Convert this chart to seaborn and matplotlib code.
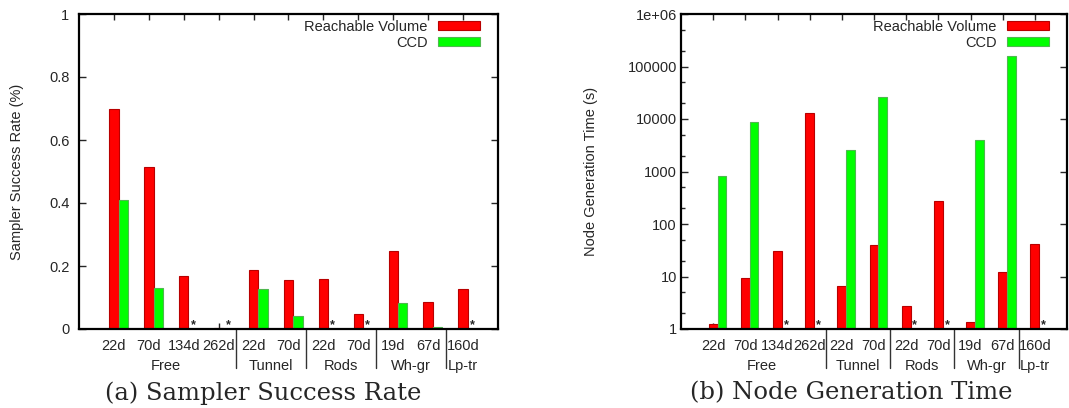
import numpy as np
import pandas as pd
import matplotlib
import matplotlib.pyplot as plt
import seaborn as sns
from matplotlib.patches import Patch
from matplotlib.ticker import LogLocator, NullFormatter, FixedLocator

matplotlib.use("Agg")

groups = ["Free", "Free", "Free", "Free", "Tunnel", "Tunnel", "Rods", "Rods",
          "Wh-gr", "Wh-gr", "Lp-tr"]
dims = ["22d", "70d", "134d", "262d", "22d", "70d", "22d", "70d", "19d", "67d", "160d"]
methods = ["Reachable Volume", "CCD"]

# sampler success rate (%), nan = no value (marked with *)
rate_rv = [0.70, 0.513, 0.169, 0.002, 0.187, 0.154, 0.160, 0.048, 0.247, 0.087, 0.127]
rate_ccd = [0.41, 0.13, np.nan, np.nan, 0.127, 0.042, np.nan, np.nan, 0.082, 0.007, np.nan]

# node generation time (s)
time_rv = [1.25, 9.4, 31, 13000, 6.6, 40, 2.7, 275, 1.35, 12, 42]
time_ccd = [820, 8700, np.nan, np.nan, 2600, 26000, np.nan, np.nan, 4000, 158000, np.nan]

group_names = ["Free", "Tunnel", "Rods", "Wh-gr", "Lp-tr"]
colors = {"Reachable Volume": "#ff0000", "CCD": "#00ff00"}
edges = {"Reachable Volume": "#b80000", "CCD": "#4fb84f"}

sns.set_style("ticks")
plt.rcParams["font.family"] = ["Liberation Sans", "DejaVu Sans"]
plt.rcParams["font.size"] = 10.5


def make_df(rv, ccd):
    keys = [f"{g} {d}" for g, d in zip(groups, dims)]
    return pd.DataFrame({
        "key": keys * 2,
        "method": ["Reachable Volume"] * len(keys) + ["CCD"] * len(keys),
        "value": list(rv) + list(ccd),
    })


def draw(ax, rv, ccd, log=False):
    df = make_df(rv, ccd)
    if log:
        ax.set_yscale("log")
    sns.barplot(data=df, x="key", y="value", hue="method", hue_order=methods,
                palette=colors, saturation=1, width=0.54, errorbar=None,
                legend=False, ax=ax, order=list(df["key"][:len(dims)]))
    for bar in ax.patches:
        c = bar.get_facecolor()
        for m in methods:
            if np.allclose(c[:3], matplotlib.colors.to_rgb(colors[m])):
                bar.set_edgecolor(edges[m])
        bar.set_linewidth(0.8)

    off = 0.135
    n = len(dims)
    pos = np.arange(n) - off
    ax.set_xlim(-1 - off, n - off)
    ax.set_xticks(pos)
    ax.set_xticklabels(dims)
    ax.set_xlabel("")
    ax.tick_params(axis="x", which="major", direction="in", length=4, width=1,
                   top=True, pad=7, labelsize=10.5)
    ax.tick_params(axis="y", which="both", direction="in", right=True, width=1)
    ax.tick_params(axis="y", which="major", length=5)
    ax.tick_params(axis="y", which="minor", length=3, right=False)

    # missing CCD values
    for i, v in enumerate(ccd):
        if np.isnan(v):
            ax.text(i + off, 0.012, "*", transform=ax.get_xaxis_transform(),
                    ha="center", va="center", fontsize=9, fontweight="bold")

    # group separators and names
    trans = ax.get_xaxis_transform()
    bounds = [i for i in range(1, n) if groups[i] != groups[i - 1]]
    for b in bounds:
        x = b - 0.5 - off
        ax.plot([x, x], [0, -0.125], transform=trans, color="#333333",
                lw=1, clip_on=False)
    for g in group_names:
        idx = [i for i in range(n) if groups[i] == g]
        xc = np.mean(idx) - off
        ax.text(xc, -0.117, g, transform=trans, ha="center", va="center",
                fontsize=10.5)

    for s in ax.spines.values():
        s.set_visible(True)
        s.set_linewidth(1.6)
        s.set_color("black")

    w = ax.get_position().width * 1069
    handles = [Patch(facecolor=colors[m], edgecolor=edges[m], linewidth=0.8, label=m)
               for m in methods]
    ax.legend(handles=handles, loc="upper right", frameon=False, markerfirst=False,
              bbox_to_anchor=(1 - 12 / w, 1.0), borderaxespad=0,
              handlelength=2.9, handleheight=0.55, labelspacing=0.12,
              handletextpad=0.7, fontsize=10.5)


fig = plt.figure(figsize=(10.69, 4.08), dpi=100)
ax1 = fig.add_axes([79 / 1069, 79 / 408, 419 / 1069, 315 / 408])
ax2 = fig.add_axes([681 / 1069, 79 / 408, 386 / 1069, 315 / 408])

draw(ax1, rate_rv, rate_ccd)
ax1.set_ylim(0, 1)
ax1.set_yticks([0, 0.2, 0.4, 0.6, 0.8, 1])
ax1.set_yticklabels(["0", "0.2", "0.4", "0.6", "0.8", "1"])
ax1.tick_params(axis="y", pad=7)
ax1.set_ylabel("Sampler Success Rate (%)", fontsize=10.5)
ax1.yaxis.set_label_coords(-0.131, 0.5)

draw(ax2, time_rv, time_ccd, log=True)
ax2.set_ylim(1, 1e6)
ticks = [1, 10, 100, 1000, 10000, 100000, 1e6]
ax2.yaxis.set_major_locator(FixedLocator(ticks))
ax2.set_yticklabels(["1", "10", "100", "1000", "10000", "100000", "1e+06"])
ax2.yaxis.set_minor_locator(LogLocator(base=10, subs=[2, 5]))
ax2.yaxis.set_minor_formatter(NullFormatter())
ax2.tick_params(axis="y", pad=3)
ax2.set_ylabel("Node Generation Time (s)", fontsize=10.5)
ax2.yaxis.set_label_coords(-0.215, 0.5)

fig.text(263 / 1069, 1 - 393 / 408, "(a) Sampler Success Rate", ha="center",
         va="center", family="DejaVu Serif", fontsize=17.5)
fig.text(851 / 1069, 1 - 393 / 408, "(b) Node Generation Time", ha="center",
         va="center", family="DejaVu Serif", fontsize=17.5)

fig.savefig("out.png", dpi=100)
